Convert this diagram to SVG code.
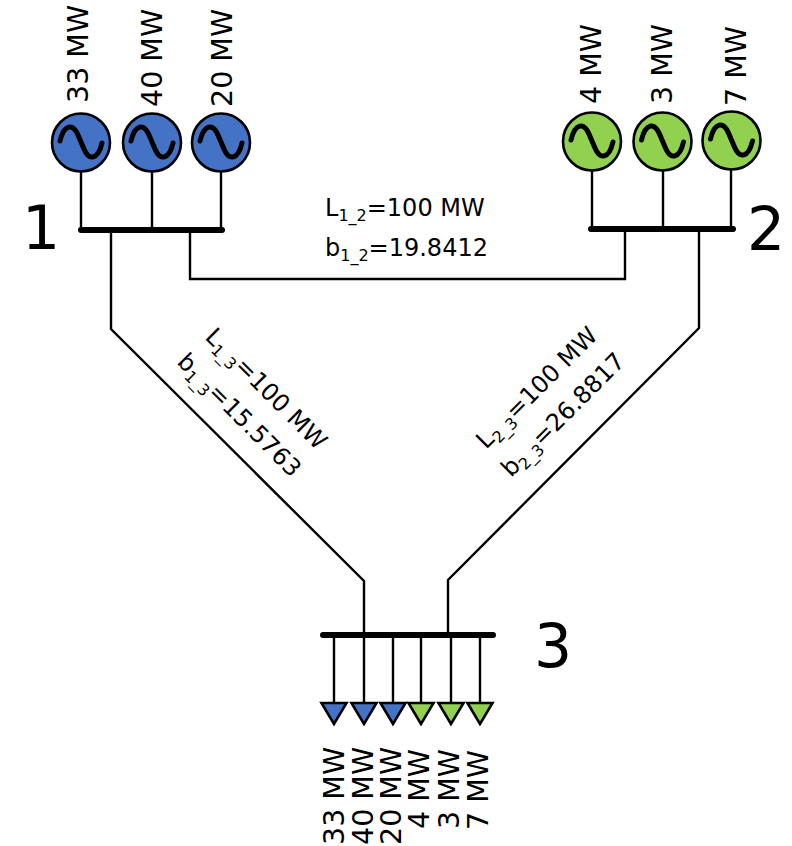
<svg xmlns="http://www.w3.org/2000/svg" width="792" height="846" viewBox="0 0 792 846">
<defs>
<style>
text{font-family:"DejaVu Sans",Verdana,sans-serif;fill:#000}
.p{font-size:28.500px}
.n{font-size:60px}
.l{font-size:24px}
.s{font-size:16px}
.w{fill:none;stroke:#000;stroke-width:2.4}
.bus{fill:none;stroke:#000;stroke-width:6;stroke-linecap:round}
.b{fill:#4472c4;stroke:#000;stroke-width:2.6}
.g{fill:#92d050;stroke:#000;stroke-width:2.6}
.sine{fill:none;stroke:#000;stroke-width:5;stroke-linecap:round}
</style>
<g id="wave"><path class="sine" d="M-21,-1C-17,-18 -8,-19 -3,-7L3,7C8,19 17,18 21,1"/></g>
<polygon id="tri" points="-12.500,-21 12.500,-21 0,0"/>
</defs>
<g id="connectors">
<path class="w" d="M81,172V230M152,172V230M221,172V230"/>
<path class="w" d="M592,171V229M663,171V229M731,170V229"/>
<path class="w" d="M111,232V329L364,581V635"/>
<path class="w" d="M699,231V328L448,580V635"/>
<path class="w" d="M190,232V279H625V231"/>
<path class="w" d="M334,637V704M364,637V704M393,637V704M421,637V704M451,637V704M480,637V704"/>
</g>
<g id="bus1"><path class="bus" d="M81,230H222"/><text class="n" x="22" y="249">1</text></g>
<g id="bus2"><path class="bus" d="M591,229H733"/><text class="n" x="747" y="250">2</text></g>
<g id="bus3"><path class="bus" d="M323,635H493"/><text class="n" x="534" y="667">3</text></g>
<g id="gen1"><circle class="b" cx="81" cy="142.500" r="29"/><use href="#wave" x="81" y="142"/><text class="p" transform="translate(88,103) rotate(-90)">33 MW</text></g>
<g id="gen2"><circle class="b" cx="152" cy="142.500" r="29"/><use href="#wave" x="152" y="142"/><text class="p" transform="translate(161.500,107) rotate(-90)">40 MW</text></g>
<g id="gen3"><circle class="b" cx="221" cy="142.500" r="29"/><use href="#wave" x="221" y="142"/><text class="p" transform="translate(231.500,107) rotate(-90)">20 MW</text></g>
<g id="gen4"><circle class="g" cx="592" cy="141.500" r="29"/><use href="#wave" x="592" y="141"/><text class="p" transform="translate(601,104) rotate(-90)">4 MW</text></g>
<g id="gen5"><circle class="g" cx="662.500" cy="141.500" r="29"/><use href="#wave" x="662.500" y="141"/><text class="p" transform="translate(672,104) rotate(-90)">3 MW</text></g>
<g id="gen6"><circle class="g" cx="731.500" cy="140.500" r="29"/><use href="#wave" x="731.500" y="140"/><text class="p" transform="translate(746,106) rotate(-90)">7 MW</text></g>
<g id="load1"><use href="#tri" class="b" x="334" y="724"/><text class="p" transform="translate(344,845) rotate(-90)">33 MW</text></g>
<g id="load2"><use href="#tri" class="b" x="364" y="724"/><text class="p" transform="translate(373,845) rotate(-90)">40 MW</text></g>
<g id="load3"><use href="#tri" class="b" x="393" y="724"/><text class="p" transform="translate(400.500,845) rotate(-90)">20 MW</text></g>
<g id="load4"><use href="#tri" class="g" x="421" y="724"/><text class="p" transform="translate(429,829) rotate(-90)">4 MW</text></g>
<g id="load5"><use href="#tri" class="g" x="451" y="724"/><text class="p" transform="translate(459,829) rotate(-90)">3 MW</text></g>
<g id="load6"><use href="#tri" class="g" x="480" y="724"/><text class="p" transform="translate(488,830) rotate(-90)">7 MW</text></g>
<g id="line12"><text class="l" x="325" y="216">L<tspan class="s" dy="5">1_2</tspan><tspan dy="-5">=100 MW</tspan></text><text class="l" x="325" y="256">b<tspan class="s" dy="5">1_2</tspan><tspan dy="-5">=19.8412</tspan></text></g>
<g id="line13"><text class="l" transform="translate(204,338) rotate(45)">L<tspan class="s" dy="5">1_3</tspan><tspan dy="-5">=100 MW</tspan></text><text class="l" transform="translate(176,363) rotate(45)">b<tspan class="s" dy="5">1_3</tspan><tspan dy="-5">=15.5763</tspan></text></g>
<g id="line23"><text class="l" transform="translate(486,450) rotate(-45)">L<tspan class="s" dy="5">2_3</tspan><tspan dy="-5">=100 MW</tspan></text><text class="l" transform="translate(511,478) rotate(-45)">b<tspan class="s" dy="5">2_3</tspan><tspan dy="-5">=26.8817</tspan></text></g>
</svg>
